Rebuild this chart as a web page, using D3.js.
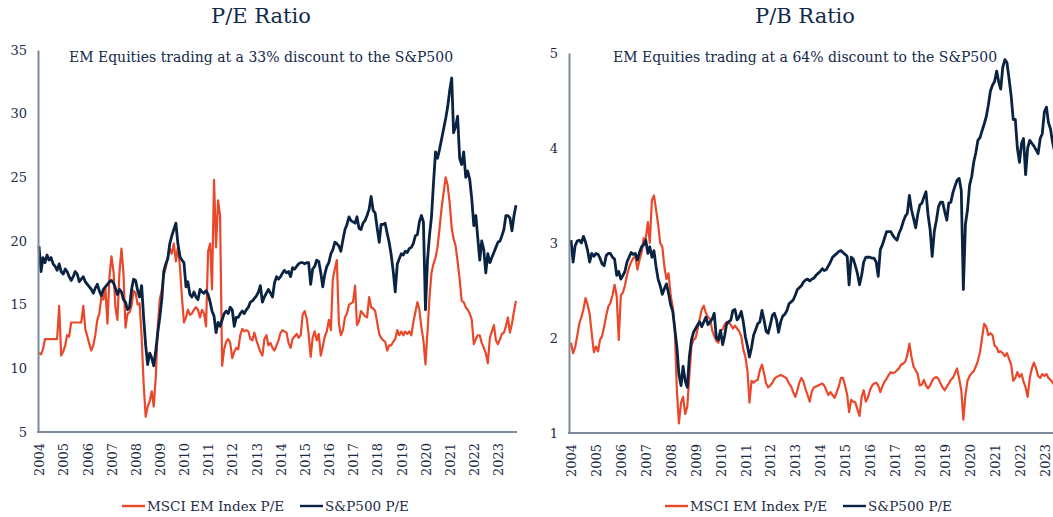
<!DOCTYPE html>
<html>
<head>
<meta charset="utf-8">
<script src="https://cdn.jsdelivr.net/npm/d3@7"></script>
<style>
  body { margin: 0; background: #fff; }
  svg text { font-family: "DejaVu Serif", "Liberation Serif", serif; fill: #1c2c44; }
</style>
</head>
<body>
<svg id="chart" width="1053" height="517"></svg>
<script>
// monthly readings, first value = Jan 2004
const peEM = [
  11.2, 11.1, 11.5, 12.3, 12.3, 12.3, 12.3, 12.3, 12.3, 12.3, 14.9, 11.0,
  11.3, 11.8, 12.6, 12.5, 13.6, 13.6, 13.6, 13.6, 13.6, 13.6, 14.9, 13.1,
  12.5, 11.9, 11.4, 11.8, 12.6, 13.8, 14.3, 15.6, 15.4, 16.3, 13.5, 17.2,
  18.8, 17.6, 14.8, 13.8, 17.5, 19.4, 17.5, 13.2, 14.3, 14.4, 14.9, 16.1,
  15.9, 15.0, 15.1, 12.5, 8.8, 6.2, 7.0, 7.4, 8.2, 7.0, 9.3, 13.3,
  15.4, 16.2, 17.3, 17.9, 18.7, 19.4, 19.0, 19.8, 18.4, 19.5, 18.0, 15.6,
  13.6, 14.0, 14.6, 14.2, 14.3, 14.6, 14.8, 14.6, 14.0, 14.6, 14.3, 13.3,
  19.2, 19.8, 16.2, 24.8, 19.5, 23.2, 22.0, 10.2, 11.5, 12.1, 12.3, 12.0,
  10.8, 11.3, 11.6, 11.5, 12.6, 13.1, 12.9, 13.0, 12.9, 12.3, 12.2, 12.8,
  12.2, 11.7, 11.3, 11.0, 12.3, 12.6, 11.8, 12.0, 11.6, 11.4, 11.8, 12.2,
  12.8, 13.0, 12.9, 12.8, 12.0, 11.6, 12.3, 12.5, 12.7, 12.4, 12.6, 14.2,
  14.5, 13.9, 12.7, 10.9, 12.4, 12.9, 12.2, 12.7, 11.0, 11.7, 12.5, 12.9,
  13.8, 13.0, 17.0, 17.8, 18.5, 13.5, 12.6, 13.0, 14.0, 14.3, 15.0, 15.1,
  15.2, 16.5, 13.4, 13.7, 14.5, 14.3, 14.1, 14.0, 15.6, 14.8, 14.7, 14.5,
  13.6, 12.7, 12.4, 12.2, 12.1, 11.4, 11.8, 11.8, 12.1, 12.3, 13.0, 12.6,
  12.9, 12.6, 12.9, 12.7, 12.9, 12.6, 13.6, 14.4, 15.2, 14.6, 13.2, 12.2,
  10.3, 12.9, 15.5, 17.5, 18.2, 18.7, 19.5, 21.0, 22.6, 23.8, 25.0, 24.4,
  23.0, 21.0, 20.2, 19.6, 18.4, 17.0, 15.3, 15.2, 14.8, 14.6, 14.3, 13.8,
  11.9, 12.3, 12.6, 12.6, 12.0, 11.6, 11.2, 10.4, 12.4, 12.9, 13.4, 12.2,
  11.9, 12.3, 12.7, 12.8, 13.3, 14.0, 12.8, 13.5, 14.5, 15.3
];
const peSP = [
  19.6, 17.6, 18.7, 18.3, 18.9, 18.5, 18.7, 18.2, 18.0, 17.7, 18.2, 17.6,
  17.4, 17.8, 17.6, 17.2, 16.9, 17.2, 17.6, 17.4, 16.8, 17.0, 17.2, 16.8,
  16.6, 16.4, 16.2, 15.9, 16.3, 16.6, 16.1, 15.7, 16.2, 16.4, 16.6, 16.8,
  16.9, 16.7, 16.3, 15.8, 16.2, 16.0, 15.4, 15.2, 14.6, 14.8, 16.2, 17.0,
  16.9, 16.1, 15.6, 16.5, 14.0, 11.8, 10.3, 11.2, 10.8, 10.2, 11.4, 12.8,
  14.0, 15.5, 17.6, 18.2, 18.6, 19.8, 20.4, 20.9, 21.4, 19.8, 18.8, 18.5,
  18.3, 16.4, 16.8, 15.8, 15.6, 16.0, 15.6, 15.4, 16.2, 16.0, 15.9, 16.1,
  15.8, 15.2, 14.5, 14.1, 12.8, 13.6, 13.3, 13.8, 14.3, 14.5, 14.3, 14.8,
  14.6, 13.3, 14.0, 14.0, 14.3, 14.5, 14.3, 14.6, 14.8, 15.2, 15.3, 15.5,
  15.7, 16.0, 16.5, 15.2, 15.6, 15.9, 16.2, 15.9, 15.6, 16.7, 17.2, 17.0,
  17.2, 17.5, 17.7, 17.5, 17.6, 17.2, 17.9, 17.8, 18.0, 18.2, 18.3, 18.3,
  18.2, 18.3, 18.3, 16.6, 17.8, 18.0, 18.5, 18.4, 17.5, 16.4, 17.4, 18.0,
  18.3, 19.0, 19.3, 19.9, 19.8, 19.6, 19.2, 20.1, 20.9, 21.3, 21.9, 21.6,
  21.5, 21.4, 21.9, 21.0, 20.9, 21.4, 21.6, 22.0, 22.5, 23.5, 22.4, 22.2,
  21.0, 19.9, 21.3, 21.3, 21.4, 20.6, 19.9, 18.9, 17.6, 16.0, 18.2, 18.6,
  19.0, 18.9, 19.2, 19.1, 19.4, 19.5, 19.8, 20.4, 20.5, 21.5, 22.0, 21.5,
  14.6, 18.5, 20.4, 21.9, 24.5, 27.0, 26.5, 27.2, 28.0, 28.8, 29.6, 30.5,
  31.8, 32.8, 28.5, 29.0, 29.8, 26.5, 26.0, 27.0, 25.0, 25.5, 24.8, 23.3,
  21.2, 22.0, 20.3, 18.5, 20.0, 19.3, 17.5, 19.0, 18.3, 18.7, 19.1, 19.5,
  19.9, 20.0, 20.4, 20.9, 22.0, 22.0, 21.8, 20.8, 22.0, 22.8
];
const pbEM = [
  1.95, 1.84, 1.90, 2.02, 2.15, 2.22, 2.30, 2.42, 2.35, 2.25, 2.04, 1.85,
  1.91, 1.86, 1.98, 2.02, 2.12, 2.24, 2.33, 2.37, 2.45, 2.56, 2.44, 1.98,
  2.45, 2.48, 2.55, 2.66, 2.74, 2.80, 2.84, 2.86, 2.72, 2.82, 2.90, 3.05,
  3.05, 3.22, 3.00, 3.45, 3.50, 3.35, 3.20, 3.00, 2.96, 2.75, 2.62, 2.68,
  2.45, 2.32, 2.10, 1.45, 1.10, 1.32, 1.38, 1.20, 1.28, 1.60, 1.92, 1.98,
  2.00, 2.10, 2.20, 2.30, 2.34, 2.26, 2.22, 2.20, 2.08, 2.02, 1.97, 1.95,
  2.08, 2.09, 2.14, 2.17, 2.16, 2.14, 2.10, 2.13, 2.10, 2.07, 2.02, 1.88,
  1.80, 1.65, 1.32, 1.55, 1.53, 1.55, 1.56, 1.66, 1.72, 1.63, 1.52, 1.48,
  1.50, 1.53, 1.57, 1.59, 1.60, 1.61, 1.60, 1.59, 1.57, 1.52, 1.49, 1.43,
  1.38, 1.45, 1.53, 1.58, 1.54, 1.46, 1.40, 1.33, 1.44, 1.48, 1.49, 1.50,
  1.51, 1.52, 1.50, 1.45, 1.40, 1.43, 1.40, 1.37, 1.43, 1.49, 1.58, 1.58,
  1.50, 1.40, 1.22, 1.35, 1.33, 1.32, 1.25, 1.18, 1.38, 1.45, 1.33, 1.37,
  1.45, 1.50, 1.52, 1.53, 1.50, 1.43, 1.49, 1.54, 1.57, 1.61, 1.64, 1.63,
  1.64, 1.66, 1.68, 1.72, 1.73, 1.75, 1.82, 1.94, 1.80, 1.70, 1.66, 1.62,
  1.50, 1.51, 1.56, 1.50, 1.47, 1.50, 1.55, 1.58, 1.59, 1.57, 1.52, 1.48,
  1.45, 1.49, 1.52, 1.56, 1.58, 1.63, 1.68, 1.57, 1.45, 1.14, 1.40, 1.55,
  1.60, 1.63, 1.65, 1.70, 1.76, 1.85, 2.00, 2.15, 2.12, 2.03, 2.05, 2.03,
  1.92, 1.90, 1.85, 1.86, 1.84, 1.81, 1.84, 1.78, 1.72, 1.55, 1.58, 1.64,
  1.59, 1.62, 1.54, 1.48, 1.38, 1.58, 1.68, 1.74, 1.68, 1.60, 1.58, 1.62,
  1.60, 1.62, 1.58, 1.56, 1.53, 1.50
];
const pbSP = [
  3.03, 2.80, 2.97, 3.02, 3.03, 3.00, 3.07, 3.01, 2.92, 2.80, 2.89, 2.86,
  2.89, 2.88, 2.84, 2.78, 2.76, 2.87, 2.89, 2.89, 2.85, 2.83, 2.66, 2.70,
  2.62, 2.66, 2.70, 2.80, 2.85, 2.90, 2.88, 2.89, 2.82, 2.90, 2.96, 2.98,
  3.03, 2.89, 2.96, 2.85, 2.92, 2.75, 2.62, 2.55, 2.46, 2.52, 2.57, 2.47,
  2.35, 2.28, 2.10, 1.91, 1.62, 1.50, 1.70, 1.55, 1.48, 1.80, 1.98, 2.06,
  2.10, 2.14, 2.17, 2.12, 2.17, 2.22, 2.14, 2.17, 2.20, 2.26, 2.00, 1.98,
  2.08, 1.93, 2.02, 2.15, 2.17, 2.19, 2.29, 2.30, 2.19, 2.22, 2.28, 2.17,
  2.01, 1.91, 1.80, 1.90, 2.03, 2.09, 2.15, 2.17, 2.29, 2.19, 2.07, 2.05,
  2.14, 2.24, 2.26, 2.19, 2.06, 2.17, 2.23, 2.25, 2.29, 2.36, 2.38, 2.40,
  2.45, 2.51, 2.53, 2.55, 2.59, 2.61, 2.62, 2.60, 2.62, 2.63, 2.66, 2.68,
  2.70, 2.73, 2.71, 2.72, 2.76, 2.80, 2.85, 2.87, 2.89, 2.91, 2.92, 2.90,
  2.88, 2.86, 2.56, 2.85, 2.83, 2.76, 2.68, 2.56, 2.66, 2.80, 2.85, 2.85,
  2.85, 2.84, 2.84, 2.80, 2.65, 2.93, 2.98, 3.05, 3.12, 3.12, 3.12, 3.08,
  3.05, 3.03, 3.10, 3.15, 3.22, 3.28, 3.31, 3.50, 3.35, 3.26, 3.16, 3.30,
  3.40, 3.42, 3.48, 3.54, 3.30, 3.14, 2.86, 3.12, 3.24, 3.38, 3.43, 3.43,
  3.33, 3.24, 3.42, 3.43, 3.53, 3.60, 3.66, 3.68, 3.55, 2.51, 3.20, 3.35,
  3.61, 3.70, 3.85, 3.95, 4.08, 4.11, 4.18, 4.25, 4.33, 4.45, 4.60, 4.66,
  4.70, 4.81, 4.70, 4.62, 4.85, 4.93, 4.90, 4.73, 4.55, 4.30, 4.30, 4.00,
  3.85, 4.05, 4.10, 3.72, 4.00, 4.08, 4.05, 4.02, 3.98, 3.94, 4.10, 4.15,
  4.38, 4.43, 4.27, 4.20, 4.06, 3.96
];
const years = d3.range(2004, 2024);
const peTicks = [5, 10, 15, 20, 25, 30, 35];
const pbTicks = [1, 2, 3, 4, 5];

const ORANGE = "#e9482b", NAVY = "#0b2342", AXIS = "#7d8a9a";
const months = d3.range(peEM.length).map(i => new Date(2004, i, 1));

const svg = d3.select("#chart");

function panel(cfg) {
    const g = svg.append("g");
    const x = d3.scaleTime().domain([months[0], months[months.length - 1]]).range(cfg.xRange);
    const y = d3.scaleLinear().domain(cfg.yDomain).range(cfg.yRange);

    // title + note
    const cx = cfg.center;
    g.append("text").attr("x", cx).attr("y", 23).attr("text-anchor", "middle")
        .style("font-size", "21px").style("fill", "#13294a").text(cfg.title);
    g.append("text").attr("x", cx).attr("y", 62).attr("text-anchor", "middle")
        .style("font-size", "14px").style("fill", "#13294a").text(cfg.note);

    // lines, EM first so S&P sits on top
    const line = d3.line().x((d, i) => x(months[i])).y(d => y(d));
    g.append("path").datum(cfg.em).attr("d", line)
        .attr("fill", "none").attr("stroke", ORANGE).attr("stroke-width", 2.2)
        .attr("stroke-linejoin", "round");
    g.append("path").datum(cfg.sp).attr("d", line)
        .attr("fill", "none").attr("stroke", NAVY).attr("stroke-width", 2.8)
        .attr("stroke-linejoin", "round");

    // y axis
    const ya = g.append("g").attr("transform", `translate(${cfg.axisX},0)`)
        .call(d3.axisLeft(y).tickValues(cfg.yTicks).tickSize(0).tickPadding(11).tickFormat(d3.format("d")));
    ya.select(".domain").attr("stroke", AXIS).attr("stroke-width", 2);
    ya.selectAll("text").style("font-size", "13px").style("font-family", "DejaVu Serif").style("fill", "#1c2c44");

    // x axis
    const baseY = cfg.yRange[0];
    const xa = g.append("g").attr("transform", `translate(0,${baseY})`)
        .call(d3.axisBottom(x).tickValues(years.map(yy => new Date(yy, 0, 1))).tickSize(0)
            .tickFormat(d3.timeFormat("%Y")));
    xa.select(".domain").remove();
    xa.selectAll("text")
        .attr("transform", "rotate(-90)")
        .attr("text-anchor", "end")
        .attr("x", -11).attr("y", 0).attr("dy", "0.36em")
        .style("font-size", "13px").style("font-family", "DejaVu Serif").style("fill", "#1c2c44");
    g.append("line").attr("x1", cfg.axisX - 1).attr("x2", cfg.xRange[1] + 1)
        .attr("y1", baseY).attr("y2", baseY).attr("stroke", AXIS).attr("stroke-width", 2);

    // legend
    const lg = g.append("g").attr("transform", `translate(${cfg.legendX},506)`);
    [["MSCI EM Index P/E", ORANGE, 0], ["S&P500 P/E", NAVY, 178]].forEach(([label, col, off]) => {
        lg.append("line").attr("x1", off).attr("x2", off + 23).attr("y1", 0).attr("y2", 0)
            .attr("stroke", col).attr("stroke-width", 2.4);
        lg.append("text").attr("x", off + 25).attr("y", 4.5).style("font-size", "13.5px").text(label);
    });
}

panel({
    title: "P/E Ratio", note: "EM Equities trading at a 33% discount to the S&P500",
    center: 261, em: peEM, sp: peSP,
    xRange: [39, 516], yDomain: [5, 35], yRange: [432, 50], yTicks: peTicks,
    axisX: 38, legendX: 122
});
panel({
    title: "P/B Ratio", note: "EM Equities trading at a 64% discount to the S&P500",
    center: 805, em: pbEM, sp: pbSP,
    xRange: [571, 1063], yDomain: [1, 5], yRange: [433, 53], yTicks: pbTicks,
    axisX: 569, legendX: 665
});
</script>
</body>
</html>
